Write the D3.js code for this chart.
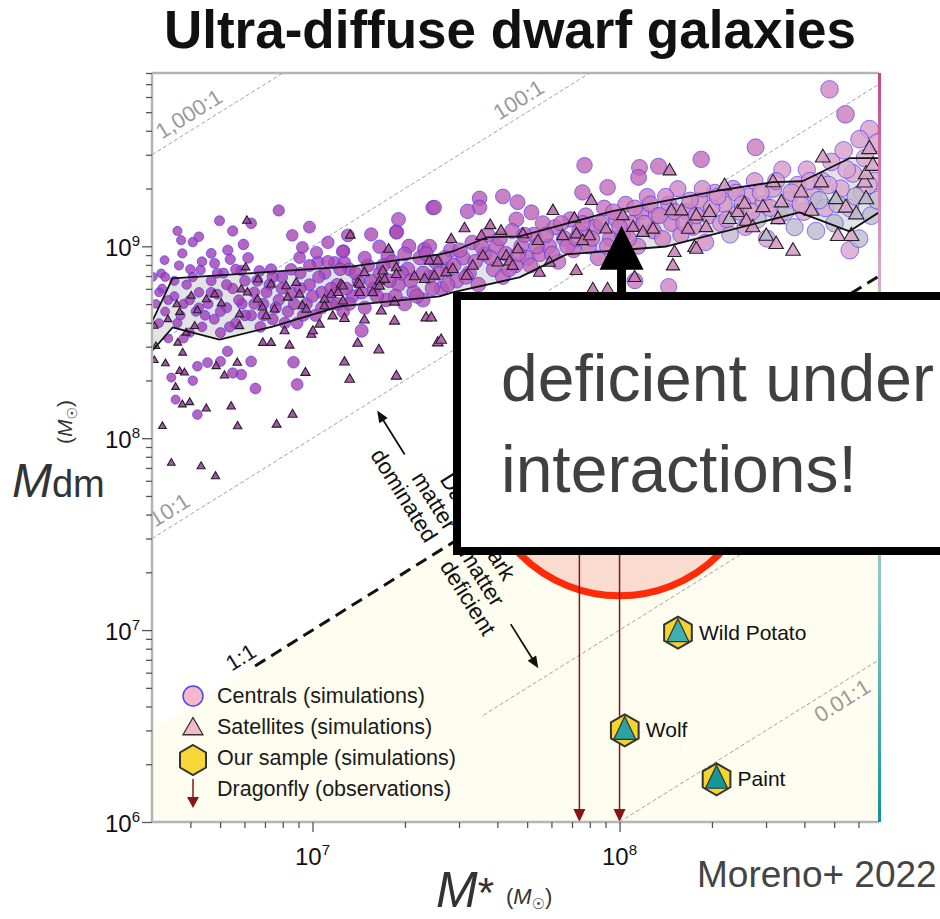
<!DOCTYPE html>
<html><head><meta charset="utf-8">
<script src="https://cdn.jsdelivr.net/npm/d3@7"></script>
<style>
body{margin:0;background:#fff}
svg{display:block;font-family:"Liberation Sans",Arial,Helvetica,sans-serif}
</style>
</head><body>
<svg id="chart" width="940" height="919"></svg>
<script>
// ---- axes domains and tick values (solar masses) ----
const stellarDomain = [3e6, 7e8];
const darkDomain = [1e6, 8e9];
const xMajorTicks = [1e7, 1e8];
const yMajorTicks = [1e6, 1e7, 1e8, 1e9];

// ---- constant dark-to-stellar mass ratio guides ----
const ratios       = [1000, 100, 10, 1, 0.1, 0.01];
const ratioFrom    = [3e6, 3e6, 3e6, 6.5e6, 3.6e7, 1e8];
const ratioLabels  = ["1,000:1", "100:1", "10:1", "1:1", "", "0.01:1"];
const ratioLabelAt = [4.2e6, 4.98e7, 3.63e6, 6.2e6, null, 5.0e8];
const ratioLabelSide = [1, 1, 1, 1, 0, -1];

// ---- 16th / 84th percentile envelope, log10 (M*, Mdm) ----
const bandUpper = [[6.476,8.603],[6.544,8.833],[7.13,8.895],[7.414,8.958],[7.456,8.973],[7.567,9.046],[7.674,9.052],[7.977,9.183],[8.326,9.292],[8.498,9.334],[8.596,9.339],[8.749,9.459],[8.845,9.459]];
const bandLower = [[6.476,8.452],[6.544,8.577],[6.697,8.514],[6.87,8.582],[7.088,8.687],[7.414,8.739],[7.456,8.76],[7.674,8.838],[7.827,8.958],[8.153,8.999],[8.586,9.177],[8.749,9.078],[8.845,9.177]];

// ---- simulated centrals: log10 M*, log10 Mdm, colour index ----
const centrals = [
[6.48,8.841,.08],[6.507,8.859,.08],[6.518,8.928,.08],[6.565,8.9,.08],[6.572,9.032,.08],[6.576,8.963,.08],[6.602,8.88,.08],[6.61,9.022,.08],[6.635,8.876,.08],[6.67,8.963,.08],[6.681,8.911,.08],[6.697,9.133,.08],[6.724,8.98,.08],[6.732,8.932,.08],[6.768,8.874,.08],[6.775,9.01,.08],[6.827,8.871,.08],[6.865,8.88,.08],[6.89,9.187,.08],[6.934,9.057,.12],[6.958,8.941,.12],[7.017,8.918,.14],[7.072,8.914,.14],[7.101,8.975,.14],[7.104,8.914,.14],[7.115,9.057,.14],[7.191,9.062,.15],[7.218,8.998,.15],[7.245,8.949,.15],[7.273,9.076,.15],[7.314,9.001,.16],[7.365,8.984,.16],[7.392,9.201,.18],
[6.54,8.316,.08],[6.554,8.201,.08],[6.625,8.123,.08],[6.625,8.375,.08],[6.658,8.394,.08],[6.768,8.332,.08],[6.814,8.259,.08],[6.938,8.396,.1],[6.723,8.453,.08],
[7.886,9.422,.28],[7.961,9.307,.3],[7.879,9.281,.28],[7.668,9.23,.25],[7.544,9.25,.22],[7.544,9.203,.22],[7.505,9.182,.22],[7.397,9.203,.2],[7.713,9.177,.25],[7.664,9.14,.25],[7.274,9.073,.16],[7.381,9.0,.18],[7.098,8.973,.14],[7.013,8.968,.14],[6.967,8.994,.12],
[8.684,9.818,.4],[8.736,9.688,.35],[8.814,9.61,.5],[8.782,9.558,.48],[8.443,9.516,.35],[8.266,9.453,.3],[8.127,9.417,.3],[8.065,9.411,.32],[8.062,9.359,.28],
[6.49,8.70,.08],[6.50,8.60,.08],[6.51,8.78,.08],[6.52,8.66,.08],[6.53,8.52,.08],[6.55,8.74,.08],[6.56,8.60,.08],[6.58,8.70,.08],[6.59,8.80,.08],[6.60,8.55,.08],[6.62,8.66,.08],[6.63,8.76,.08],[6.64,8.58,.08],[6.66,8.70,.08],[6.67,8.82,.08],[6.68,8.62,.08],[6.69,8.75,.08],[6.70,8.55,.08],[6.71,8.86,.08],[6.72,8.68,.08],
[6.74,8.78,.1],[6.75,8.60,.1],[6.77,8.70,.1],[6.78,8.82,.1],[6.80,8.64,.1],[6.81,8.76,.1],[6.83,8.58,.1],[6.84,8.70,.1],[6.86,8.80,.1],[6.87,8.62,.1],[6.89,8.72,.12],[6.90,8.84,.12],[6.92,8.66,.12],[6.93,8.76,.12],[6.95,8.60,.12],[6.96,8.86,.12],[6.98,8.70,.12],[6.99,8.80,.12],
[7.01,8.64,.14],[7.03,8.76,.14],[7.04,8.86,.14],[7.06,8.70,.14],[7.08,8.80,.14],[7.10,8.66,.14],[7.12,8.88,.15],[7.13,8.74,.15],[7.15,8.82,.15],[7.17,8.68,.15],[7.18,8.90,.15],[7.20,8.78,.16],[7.22,8.86,.16],[7.24,8.72,.16],[7.26,8.92,.18],[7.28,8.80,.18],[7.30,8.70,.18],[7.31,8.88,.2],[7.33,8.76,.2],[7.35,8.94,.2],[7.36,8.72,.2],[7.38,8.84,.2],[7.40,8.92,.22],
[7.42,8.78,.22],[7.44,8.88,.22],[7.45,8.98,.22],[7.47,8.82,.24],[7.49,8.94,.24],[7.51,8.86,.24],[7.52,9.02,.24],[7.54,8.80,.24],[7.56,8.96,.25],[7.57,9.06,.25],[7.59,8.88,.25],[7.60,9.00,.26],[7.62,8.84,.26],[7.63,8.96,.26],[7.65,9.08,.26],[7.66,8.90,.26],[7.68,9.00,.27],[7.70,8.94,.27],
[7.72,9.06,.28],[7.74,8.96,.28],[7.75,9.12,.28],[7.77,9.00,.28],[7.79,9.10,.3],[7.80,8.92,.3],[7.82,9.04,.3],[7.84,9.14,.3],[7.85,8.98,.3],[7.87,9.08,.3],[7.89,9.16,.32],[7.90,9.00,.32],[7.92,9.10,.32],[7.93,8.94,.32],[7.95,9.20,.32],[7.97,9.04,.32],[7.99,9.14,.34],
[8.01,9.06,.34],[8.02,9.22,.34],[8.04,9.12,.34],[8.06,9.00,.36],[8.07,9.18,.36],[8.09,9.26,.36],[8.11,9.08,.36],[8.12,9.16,.38],[8.14,9.04,.38],[8.16,9.22,.38],[8.17,9.12,.38],[8.19,9.30,.4],[8.20,9.06,.4],[8.22,9.18,.4],[8.24,9.10,.4],[8.26,9.24,.42],[8.28,9.02,.42],[8.29,9.16,.42],
[8.31,9.28,.44],[8.33,9.12,.44],[8.34,9.22,.44],[8.36,9.06,.66],[8.37,9.30,.44],[8.39,9.18,.46],[8.41,9.10,.46],[8.42,9.26,.46],[8.44,9.34,.46],[8.45,9.14,.68],[8.47,9.22,.48],[8.48,9.04,.5],[8.50,9.30,.48],[8.52,9.16,.5],[8.53,9.40,.48],[8.55,9.24,.5],[8.57,9.10,.68],[8.58,9.32,.5],
[8.60,9.18,.52],[8.61,9.40,.5],[8.63,9.26,.52],[8.64,9.08,.68],[8.66,9.34,.52],[8.67,9.20,.55],[8.69,9.44,.5],[8.70,9.12,.68],[8.72,9.30,.55],[8.73,9.50,.5],[8.75,9.20,.6],[8.75,8.98,.52],[8.76,9.38,.55],[8.78,9.04,.68],[8.79,9.28,.6],[8.80,9.46,.55],[8.82,9.16,.68],[8.83,9.34,.58],[8.84,9.54,.5],
[7.16,8.56,.15],[7.58,8.64,.25],[8.16,8.79,.38],[7.74,8.70,.28],[8.05,8.82,.34],
[6.50,8.76,.08],[6.52,8.84,.08],[6.53,8.72,.08],[6.55,8.82,.08],[6.57,8.64,.08],[6.58,8.52,.08],[6.60,8.72,.08],[6.61,8.84,.08],[6.63,8.68,.08],[6.64,8.92,.08],[6.65,8.64,.08],[6.67,8.76,.08],[6.69,8.86,.08],[6.70,8.66,.08],[6.72,8.80,.08],[6.73,8.58,.08],[6.75,8.88,.08],[6.76,8.72,.1],[6.78,8.64,.1],[6.79,8.94,.1],[6.81,8.70,.1],[6.82,8.82,.1],[6.84,8.64,.1],[6.85,8.76,.1],[6.87,8.84,.1],[6.88,8.68,.1],[6.90,8.78,.12],[6.91,8.60,.12],[6.93,8.88,.12],[6.94,8.70,.12],[6.96,8.78,.12],[6.97,8.64,.12],[6.99,8.90,.12],[7.00,8.74,.14],[7.02,8.84,.14],[7.03,8.68,.14],[7.05,8.92,.14],[7.06,8.78,.14],[7.08,8.70,.14],[7.09,8.88,.14],[7.11,8.78,.14],[7.12,8.70,.15],[7.14,8.86,.15],[7.16,8.76,.15],[7.17,8.94,.15],[7.19,8.82,.15],[7.21,8.74,.16],[7.23,8.90,.16],[7.25,8.82,.16],[7.27,8.74,.18],[7.29,8.86,.18],[7.30,8.96,.18],[7.32,8.82,.2],[7.34,8.74,.2],[7.36,8.86,.2],[7.37,8.96,.2],[7.39,8.78,.2],[7.41,8.86,.22],[7.43,8.94,.22],[7.44,8.80,.22],[7.46,8.90,.22],[7.48,8.98,.24],[7.50,8.84,.24],[7.53,8.92,.24],[7.55,9.00,.24],[7.58,8.94,.25],[7.61,9.04,.26],[7.64,8.88,.26],[7.67,8.96,.27],[7.69,9.06,.27],[7.71,8.90,.28],[7.73,9.00,.28],[7.76,9.06,.28],[7.78,8.96,.3],[7.81,9.12,.3],[7.83,9.00,.3],[7.86,9.04,.3],[7.88,9.12,.32],[7.91,9.04,.32],[7.94,9.12,.32],[7.96,9.00,.32],[7.98,9.18,.34],[8.00,9.10,.34],[8.03,9.04,.34],[8.05,9.20,.36],[8.08,9.12,.36],[8.10,9.22,.36],[8.13,9.16,.38],[8.15,9.26,.38],[8.18,9.18,.4],[8.21,9.12,.4],[8.23,9.24,.4],[8.25,9.16,.42],[8.27,9.30,.42],[8.30,9.20,.44],[8.32,9.26,.44],[8.35,9.14,.44],[8.38,9.28,.46],[8.40,9.22,.46],[8.43,9.18,.46],[8.46,9.28,.48],[8.49,9.20,.5],[8.51,9.34,.48],[8.54,9.18,.68],[8.56,9.28,.5],[8.59,9.22,.52],[8.62,9.34,.5],[8.65,9.24,.68],[8.68,9.32,.55],[8.71,9.22,.66],[8.74,9.40,.55],[8.77,9.26,.66],[8.81,9.32,.6],[8.84,9.24,.66],
[6.56,9.08,.08],[6.63,9.05,.08],[6.74,9.08,.08],[6.80,9.12,.08],[6.99,9.10,.12],[7.05,9.02,.14],[7.28,9.14,.18],[7.62,9.26,.26],
[6.70,8.40,.08],[6.74,8.34,.08],[6.80,8.40,.1],[6.95,8.28,.12],[6.61,8.30,.08]
];

// ---- simulated satellites: log10 M*, log10 Mdm, colour index ----
const satellites = [
[6.485,8.584,.1],[6.485,8.406,.1],[6.49,8.479,.1],[6.511,8.062,.1],[6.521,8.389,.1],[6.529,8.619,.1],[6.54,7.871,.1],[6.554,8.266,.1],[6.558,8.697,.1],[6.561,8.497,.1],[6.567,8.657,.1],[6.567,8.349,.1],[6.576,8.175,.1],[6.577,8.445,.1],[6.583,8.341,.1],[6.588,8.549,.1],[6.6,8.187,.1],[6.605,8.741,.1],[6.616,8.584,.1],[6.625,8.666,.1],[6.637,7.853,.1],[6.654,8.154,.1],[6.654,8.723,.1],[6.681,8.749,.1],[6.684,7.801,.1],[6.686,8.375,.1],[6.703,8.702,.1],[6.713,8.326,.1],[6.735,8.165,.1],[6.755,8.393,.12],[6.756,8.062,.1],[6.762,8.645,.1],[6.762,8.584,.1],[6.768,8.775,.1],[6.782,8.89,.1],[6.786,9.133,.1],[6.788,8.759,.1],[6.821,8.723,.1],[6.822,8.827,.1],[6.837,8.681,.1],[6.838,8.497,.1],[6.849,8.636,.1],[6.865,8.801,.1],[6.865,8.497,.1],[6.876,8.671,.1],[6.883,8.071,.1],[6.909,8.558,.14],[6.914,8.792,.12],[6.919,8.733,.12],[6.925,8.483,.12],[6.935,8.123,.12],[6.947,8.81,.12],[6.958,8.749,.12],[6.967,8.688,.12],[6.977,8.341,.12],[6.98,8.671,.12],[6.996,8.54,.12],[7.001,8.558,.14],[7.023,8.593,.14],[7.039,8.723,.14],[7.039,8.688,.14],[7.061,8.749,.14],[7.066,8.636,.14],[7.083,8.758,.14],[7.093,8.801,.14],[7.099,8.792,.14],[7.099,8.714,.14],[7.104,8.396,.14],[7.104,8.623,.16],[7.121,8.306,.14],[7.123,9.057,.14],[7.147,8.494,.14],[7.148,8.81,.16],[7.153,8.801,.16],[7.153,8.758,.16],[7.169,8.862,.16],[7.169,8.615,.18],[7.196,8.758,.16],[7.216,8.459,.16],[7.218,8.818,.16],[7.218,8.792,.16],[7.224,8.662,.16],[7.229,8.871,.16],[7.235,8.827,.16],[7.248,8.984,.16],[7.267,8.709,.18],[7.267,8.61,.18],[7.273,8.888,.18],[7.273,8.853,.18],[7.273,8.323,.16],[7.332,8.841,.2],[7.365,8.827,.2],[7.37,8.627,.2],[7.381,8.923,.2],[7.387,8.627,.2],[7.397,8.845,.2],[7.408,8.923,.2],[7.408,8.497,.2],[7.419,8.511,.24],[7.435,8.862,.22],[7.452,9.036,.22],[7.457,8.88,.22],[7.495,9.092,.24],[7.501,8.845,.24],[7.522,8.897,.24],[7.55,9.053,.24],[7.555,8.949,.24],[7.579,9.109,.26],[7.603,8.914,.26],[7.614,9.079,.26],[7.631,8.949,.26],[7.642,8.92,.26],[7.652,8.897,.26],[7.669,8.984,.28],[7.685,9.062,.28],[7.734,9.027,.28],[7.739,8.862,.28],[7.772,8.914,.3],[7.783,9.184,.3],[7.815,9.053,.3],[7.853,9.144,.3],[7.859,9.062,.3],[7.859,8.871,.3],[7.88,9.027,.32],[7.902,9.053,.32],[7.908,9.236,.32],[7.913,8.775,.34],[7.956,9.088,.34],[7.961,8.775,.36],[8.011,9.158,.34],[8.044,9.097,.36],[8.049,8.836,.36],[8.076,9.071,.36],[8.109,9.088,.38],[8.163,9.392,.36],[8.169,9.184,.38],[8.174,8.897,.4],[8.179,8.967,.4],[8.202,9.184,.4],[8.223,9.088,.4],[8.244,8.993,.42],[8.25,9.158,.42],[8.25,8.984,.42],[8.282,9.097,.42],[8.293,9.176,.42],[8.342,9.314,.44],[8.358,9.14,.68],[8.385,9.176,.44],[8.407,9.219,.46],[8.413,9.131,.46],[8.434,9.097,.46],[8.467,9.202,.48],[8.478,9.053,.68],[8.5,9.332,.48],[8.51,9.01,.48],[8.516,9.14,.48],[8.527,9.227,.5],[8.565,8.975,.5],[8.592,9.279,.5],[8.625,9.184,.52],[8.657,9.332,.52],[8.662,9.462,.5],[8.705,9.245,.68],[8.711,9.053,.55],[8.737,9.201,.55],[8.755,9.053,.55],[8.771,9.166,.68],[8.798,9.332,.55],[8.803,9.245,.68],[8.803,9.375,.55],[8.814,9.506,.5],[8.825,9.419,.55]
];

// ---- our simulated sample ----
const sampleNames = ["Wild Potato", "Wolf", "Paint"];
const sampleStellar = [1.55e8, 1.04e8, 2.07e8];
const sampleDark = [9.7e6, 3.0e6, 1.67e6];
const sampleTint = ["#3eb0b2", "#2aa2a4", "#159898"];

// ---- Dragonfly observations (upper limits) ----
const dragonflyStellar = [7.4e7, 1.0e8];
const dragonflyUpper = [1.5e8, 1.5e8];

// ---- highlighted region and call-out ----
const highlightCentre = [1.0e8, 8.1e7];
const calloutTarget = [1.0e8, 1.28e9];
const calloutLines = ["deficient under", "interactions!"];

// ---- legend entries ----
const legendLabels = ["Centrals (simulations)", "Satellites (simulations)", "Our sample (simulations)", "Dragonfly (observations)"];

const svg = d3.select("#chart");
const x = d3.scaleLog().domain(stellarDomain).range([152, 879]);
const y = d3.scaleLog().domain(darkDomain).range([822, 73]);
const X0 = x.range()[0], X1 = x.range()[1], Y0 = y.range()[0], Y1 = y.range()[1];
const p10 = v => Math.pow(10, v);

const tint = d3.scaleLinear()
  .domain([0, 0.15, 0.3, 0.45, 0.6, 0.7, 1])
  .range(["#9830ac", "#ad4aaf", "#c36cb6", "#d595c6", "#dcb2d1", "#b3bccb", "#169898"]);

const defs = svg.append("defs");
defs.append("clipPath").attr("id", "plotClip").append("rect")
  .attr("x", X0).attr("y", Y1).attr("width", X1 - X0).attr("height", Y0 - Y1);
const grad = defs.append("linearGradient").attr("id", "edgeBar").attr("x1", 0).attr("x2", 0).attr("y1", 0).attr("y2", 1);
[["0", "#c4448f"], ["0.25", "#d8a4c6"], ["0.45", "#c6cbd4"], ["0.7", "#86c6c4"], ["1", "#0f9494"]]
  .forEach(s => grad.append("stop").attr("offset", s[0]).attr("stop-color", s[1]));

const plot = svg.append("g").attr("clip-path", "url(#plotClip)");

// region below the 1:1 relation
plot.append("path")
  .attr("d", d3.line()([[x(stellarDomain[0]), y(stellarDomain[0])], [x(stellarDomain[1]), y(stellarDomain[1])],
                        [x(stellarDomain[1]), y(darkDomain[0])], [x(stellarDomain[0]), y(darkDomain[0])]]) + "Z")
  .attr("fill", "#fefdf0");

// ratio guide lines
const ang = Math.atan2(y(1e8) - y(1e7), x(1e8) - x(1e7)) * 180 / Math.PI;
ratios.forEach((r, i) => {
  const m0 = Math.max(ratioFrom[i], darkDomain[0] / r);
  const m1 = Math.min(stellarDomain[1], darkDomain[1] / r);
  plot.append("line")
    .attr("x1", x(m0)).attr("y1", y(m0 * r)).attr("x2", x(m1)).attr("y2", y(m1 * r))
    .attr("stroke", r === 1 ? "#111" : "#a2a2a2")
    .attr("stroke-width", r === 1 ? 3 : 1)
    .attr("stroke-dasharray", r === 1 ? "12,7" : "4,2.5");
});

// percentile envelope
const toPx = d => [x(p10(d[0])), y(p10(d[1]))];
const bandPts = bandUpper.concat(bandLower.slice().reverse()).map(toPx);
plot.append("path").attr("d", d3.line()(bandPts) + "Z").attr("fill", "#e3e3e3");

const rScale = d3.scaleLinear().domain([6.47, 7.3, 8.85]).range([4.3, 7, 9]);
plot.append("g").selectAll("circle").data(centrals).join("circle")
  .attr("cx", d => x(p10(d[0]))).attr("cy", d => y(p10(d[1])))
  .attr("r", d => rScale(d[0]))
  .attr("fill", d => tint(d[2])).attr("fill-opacity", 0.8)
  .attr("stroke", "#3b2cff").attr("stroke-opacity", 0.75).attr("stroke-width", 0.8);

const triPath = s => {
  const h = s * Math.sqrt(3) / 2;
  return `M0,${-2 * h / 3}L${s / 2},${h / 3}L${-s / 2},${h / 3}Z`;
};
const sScale = d3.scaleLinear().domain([6.47, 8.85]).range([7.5, 15.5]);
plot.append("g").selectAll("path").data(satellites).join("path")
  .attr("transform", d => `translate(${x(p10(d[0]))},${y(p10(d[1]))})`)
  .attr("d", d => triPath(sScale(d[0])))
  .attr("fill", d => tint(d[2])).attr("fill-opacity", 0.92)
  .attr("stroke", "#222").attr("stroke-width", 1.1);

[bandUpper, bandLower].forEach(b => {
  plot.append("path").attr("d", d3.line()(b.map(toPx)))
    .attr("fill", "none").attr("stroke", "#111").attr("stroke-width", 1.8).attr("stroke-linejoin", "round");
});

// highlighted Dragonfly region
plot.append("circle")
  .attr("cx", x(highlightCentre[0])).attr("cy", y(highlightCentre[1])).attr("r", 140)
  .attr("fill", "#fadbd0").attr("stroke", "#ff2a08").attr("stroke-width", 7);

// Dragonfly upper limits
dragonflyStellar.forEach((m, i) => {
  const px = x(m), yb = y(darkDomain[0]);
  plot.append("line").attr("x1", px).attr("x2", px).attr("y1", y(dragonflyUpper[i])).attr("y2", yb - 10)
    .attr("stroke", "#8a1414").attr("stroke-width", 1.5);
  plot.append("path").attr("d", `M${px - 6},${yb - 13}L${px + 6},${yb - 13}L${px},${yb}Z`).attr("fill", "#8a1414");
});

// ratio labels
ratios.forEach((r, i) => {
  if (!ratioLabels[i]) return;
  const m = ratioLabelAt[i];
  const rad = ang * Math.PI / 180;
  const nx = Math.sin(rad), ny = -Math.cos(rad);
  const off = 15 * ratioLabelSide[i];
  const px = x(m) + nx * off, py = y(m * r) + ny * off;
  svg.append("text").attr("transform", `translate(${px},${py}) rotate(${ang})`)
    .attr("text-anchor", "middle").attr("dominant-baseline", "central")
    .attr("font-size", 22).attr("fill", r === 1 ? "#111" : "#9a9a9a")
    .text(ratioLabels[i]);
});

// hexagon markers for our sample
const hexPath = rr => d3.range(6).map(k => {
  const a = (k * 60 - 90) * Math.PI / 180;
  return [rr * Math.cos(a), rr * Math.sin(a)];
});
const drawSample = (g, tintCol) => {
  g.append("path").attr("d", d3.line()(hexPath(16)) + "Z").attr("fill", "#f6d42e").attr("stroke", "#333").attr("stroke-width", 2);
  g.append("path").attr("d", "M0,-14L11,9L-11,9Z").attr("fill", tintCol).attr("stroke", "#333").attr("stroke-width", 1.2);
};
sampleNames.forEach((n, i) => {
  const g = svg.append("g").attr("transform", `translate(${x(sampleStellar[i])},${y(sampleDark[i])})`);
  drawSample(g, sampleTint[i]);
  g.append("text").attr("x", 21).attr("y", 7).attr("font-size", 21).attr("fill", "#111").text(n);
});

// dominated / deficient annotation across the 1:1 line
const om = 2.455e7;
const tg = svg.append("g").attr("transform", `translate(${x(om)},${y(om)}) rotate(${90 + ang})`)
  .attr("font-size", 22.5).attr("fill", "#111");
const rows = [["Dark", "Dark", -46], ["matter", "matter", -23], ["dominated", "deficient", 0]];
rows.forEach(r => {
  tg.append("text").attr("x", -13).attr("y", r[2]).attr("text-anchor", "end").text(r[0]);
  tg.append("text").attr("x", 13).attr("y", r[2]).attr("text-anchor", "start").text(r[1]);
});
[[-100, -152], [100, 152]].forEach(a => {
  const s = Math.sign(a[1]);
  tg.append("line").attr("x1", a[0]).attr("x2", a[1] - s * 8).attr("y1", -30).attr("y2", -30).attr("stroke", "#111").attr("stroke-width", 1.8);
  tg.append("path").attr("d", `M${a[1]},-30L${a[1] - s * 12},-35L${a[1] - s * 12},-25Z`).attr("fill", "#111");
});

// legend
const lg = svg.append("g").attr("font-size", 21.5).attr("fill", "#1a1a1a");
const rowY = [703, 734, 765, 796];
legendLabels.forEach((t, i) => lg.append("text").attr("x", 217).attr("y", rowY[i]).text(t));
lg.append("circle").attr("cx", 193).attr("cy", rowY[0] - 7).attr("r", 10).attr("fill", "#f7b7ca").attr("stroke", "#4646ff").attr("stroke-width", 1.5);
lg.append("path").attr("transform", `translate(193,${rowY[1] - 5})`).attr("d", triPath(20)).attr("fill", "#f5b7c9").attr("stroke", "#333").attr("stroke-width", 1.3);
lg.append("path").attr("transform", `translate(193,${rowY[2] - 5})`).attr("d", d3.line()(hexPath(15)) + "Z").attr("fill", "#f8d838").attr("stroke", "#333").attr("stroke-width", 2);
lg.append("line").attr("x1", 193).attr("x2", 193).attr("y1", rowY[3] - 17).attr("y2", rowY[3] + 4).attr("stroke", "#8a1414").attr("stroke-width", 1.5);
lg.append("path").attr("d", `M187,${rowY[3] + 1}L199,${rowY[3] + 1}L193,${rowY[3] + 12}Z`).attr("fill", "#8a1414");

// frame
svg.append("line").attr("x1", X0).attr("x2", X1).attr("y1", Y1).attr("y2", Y1).attr("stroke", "#b4b4b4").attr("stroke-width", 2.5);
svg.append("line").attr("x1", X0).attr("x2", X0).attr("y1", Y1).attr("y2", Y0).attr("stroke", "#b4b4b4").attr("stroke-width", 2.5);
svg.append("line").attr("x1", X0).attr("x2", X1).attr("y1", Y0).attr("y2", Y0).attr("stroke", "#b4b4b4").attr("stroke-width", 2.5);
svg.append("rect").attr("x", X1 - 1).attr("y", Y1).attr("width", 3).attr("height", Y0 - Y1).attr("fill", "url(#edgeBar)");

// axes ticks
const minorX = [], minorY = [];
for (let e = 6; e <= 8; e++) for (let k = 2; k <= 9; k++) { const v = k * p10(e); if (v > stellarDomain[0] && v < stellarDomain[1]) minorX.push(v); }
for (let e = 6; e <= 9; e++) for (let k = 2; k <= 9; k++) { const v = k * p10(e); if (v > darkDomain[0] && v <= darkDomain[1]) minorY.push(v); }
const styleAxis = g => { g.select(".domain").remove(); g.selectAll("line").attr("stroke", "#555").attr("stroke-width", 1.3); };
svg.append("g").attr("transform", `translate(0,${Y0})`).call(d3.axisBottom(x).tickValues(minorX).tickSize(6).tickFormat("")).call(styleAxis);
svg.append("g").attr("transform", `translate(0,${Y0})`).call(d3.axisBottom(x).tickValues(xMajorTicks).tickSize(10).tickFormat("")).call(styleAxis);
svg.append("g").attr("transform", `translate(${X0},0)`).call(d3.axisLeft(y).tickValues(minorY).tickSize(6).tickFormat("")).call(styleAxis);
svg.append("g").attr("transform", `translate(${X0},0)`).call(d3.axisLeft(y).tickValues(yMajorTicks).tickSize(10).tickFormat("")).call(styleAxis);

const powLabel = (sel, v) => {
  sel.append("tspan").text("10");
  sel.append("tspan").attr("dy", -10).attr("font-size", 15).text(Math.round(Math.log10(v)));
};
xMajorTicks.forEach(v => {
  const t = svg.append("text").attr("x", x(v)).attr("y", 865).attr("text-anchor", "middle").attr("font-size", 24).attr("fill", "#111");
  powLabel(t, v);
});
yMajorTicks.forEach(v => {
  const t = svg.append("text").attr("x", 140).attr("y", y(v) + 10).attr("text-anchor", "end").attr("font-size", 24).attr("fill", "#111");
  powLabel(t, v);
});

// axis titles
const yt = svg.append("text").attr("x", 12).attr("y", 497).attr("fill", "#333");
yt.append("tspan").attr("font-size", 48).attr("font-style", "italic").text("M");
yt.append("tspan").attr("font-size", 38).text("dm");
const yu = svg.append("text").attr("transform", "translate(72,444) rotate(-90)").attr("font-size", 21).attr("fill", "#333");
yu.append("tspan").text("(");
yu.append("tspan").attr("font-style", "italic").text("M");
yu.append("tspan").attr("font-size", 14).attr("dy", 5).attr("font-family", "DejaVu Sans").text("☉");
yu.append("tspan").attr("dy", -5).text(")");

const xt = svg.append("text").attr("x", 436).attr("y", 907).attr("fill", "#333");
xt.append("tspan").attr("font-size", 50).attr("font-style", "italic").text("M");
xt.append("tspan").attr("font-size", 42).text("*");
const xu = svg.append("text").attr("x", 506).attr("y", 904).attr("font-size", 22).attr("fill", "#333");
xu.append("tspan").text("(");
xu.append("tspan").attr("font-style", "italic").text("M");
xu.append("tspan").attr("font-size", 15).attr("dy", 5).attr("font-family", "DejaVu Sans").text("☉");
xu.append("tspan").attr("dy", -5).text(")");

svg.append("text").attr("x", 697).attr("y", 887).attr("font-size", 37).attr("fill", "#444").text("Moreno+ 2022");

// title
svg.append("text").attr("x", 510).attr("y", 48).attr("text-anchor", "middle")
  .attr("font-size", 53).attr("font-weight", "bold").attr("fill", "#111").text("Ultra-diffuse dwarf galaxies");

// call-out box and arrow
const ax = x(calloutTarget[0]) + 2, ay = y(calloutTarget[1]);
svg.append("rect").attr("x", 457).attr("y", 296).attr("width", 620).attr("height", 255)
  .attr("fill", "#fff").attr("stroke", "#000").attr("stroke-width", 8);
svg.append("line").attr("x1", ax).attr("x2", ax).attr("y1", 293).attr("y2", ay + 40).attr("stroke", "#000").attr("stroke-width", 9);
svg.append("path").attr("d", `M${ax - 22},${ay + 44}L${ax + 22},${ay + 44}L${ax},${ay}Z`).attr("fill", "#000");
calloutLines.forEach((t, i) => {
  svg.append("text").attr("x", 501).attr("y", 401 + i * 91).attr("font-size", 66).attr("fill", "#404040").text(t);
});
</script>
</body></html>
